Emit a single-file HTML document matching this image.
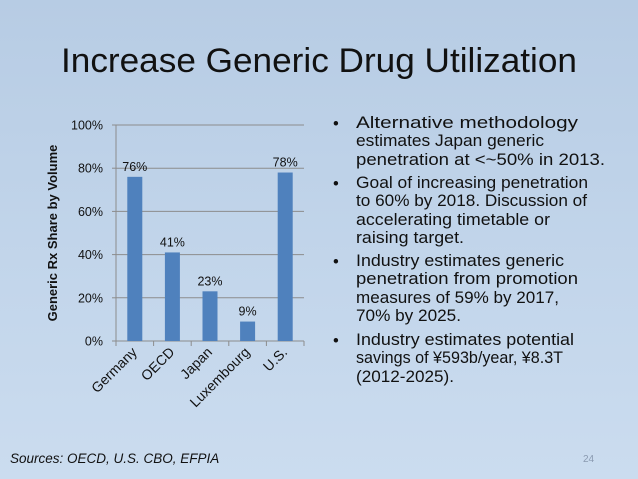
<!DOCTYPE html>
<html><head><meta charset="utf-8"><style>
html,body{margin:0;padding:0;}
body{width:638px;height:479px;overflow:hidden;background:linear-gradient(180deg,#b7cce4 0%,#c3d6eb 60%,#cbdcef 100%);font-family:"Liberation Sans",sans-serif;}
svg{display:block;}
</style></head><body>
<svg width="638" height="479">
<text x="319" y="72" text-anchor="middle" font-size="34" fill="#111" textLength="516" lengthAdjust="spacingAndGlyphs">Increase Generic Drug Utilization</text>
<g id="chart"></g>
<g font-size="16.5" fill="#111">
<text x="333" y="129">•</text><text x="333" y="189">•</text><text x="333" y="267">•</text><text x="333" y="346">•</text>
<text x="356" y="128" textLength="222" lengthAdjust="spacingAndGlyphs">Alternative methodology</text>
<text x="356" y="146" textLength="188" lengthAdjust="spacingAndGlyphs">estimates Japan generic</text>
<text x="356" y="165" textLength="249" lengthAdjust="spacingAndGlyphs">penetration at  &lt;~50% in 2013.</text>
<text x="356" y="188" textLength="232" lengthAdjust="spacingAndGlyphs">Goal of increasing penetration</text>
<text x="356" y="206" textLength="231" lengthAdjust="spacingAndGlyphs">to 60% by 2018. Discussion of</text>
<text x="356" y="225" textLength="194" lengthAdjust="spacingAndGlyphs">accelerating timetable or</text>
<text x="356" y="243" textLength="108" lengthAdjust="spacingAndGlyphs">raising target.</text>
<text x="356" y="266" textLength="208" lengthAdjust="spacingAndGlyphs">Industry estimates generic</text>
<text x="356" y="284" textLength="222" lengthAdjust="spacingAndGlyphs">penetration from promotion</text>
<text x="356" y="303" textLength="203" lengthAdjust="spacingAndGlyphs">measures of 59% by 2017,</text>
<text x="356" y="321" textLength="105" lengthAdjust="spacingAndGlyphs">70% by 2025.</text>
<text x="356" y="345" textLength="218" lengthAdjust="spacingAndGlyphs">Industry estimates potential</text>
<text x="356" y="363" textLength="207" lengthAdjust="spacingAndGlyphs">savings of ¥593b/year, ¥8.3T</text>
<text x="356" y="382" textLength="98" lengthAdjust="spacingAndGlyphs">(2012-2025).</text>
</g>
<text x="10" y="463" font-size="13.5" font-style="italic" fill="#111">Sources: OECD, U.S. CBO, EFPIA</text>
<text x="583" y="462" font-size="10" fill="#8a9ab0">24</text>
</svg>
<script>
const categories = ["Germany","OECD","Japan","Luxembourg","U.S."];
const values = [76,41,23,9,78];
const valueLabels = ["76%","41%","23%","9%","78%"];
const yTicks = [0,20,40,60,80,100];
const yTickLabels = ["0%","20%","40%","60%","80%","100%"];
const NS="http://www.w3.org/2000/svg";
const g=document.getElementById('chart');
const x0=116,x1=304,yTop=125,yBot=341;
const slot=(x1-x0)/categories.length;
function y(v){return yBot-(v/100)*(yBot-yTop);}
function xc(i){return x0+slot*(i+0.5);}
function mk(t,a,txt){const e=document.createElementNS(NS,t);for(const k in a)e.setAttribute(k,a[k]);if(txt!=null)e.textContent=txt;g.appendChild(e);return e;}
yTicks.forEach((v,i)=>{
  if(v>0){const l=mk('line',{x1:x0,x2:x1,y1:y(v),y2:y(v),stroke:'#8c8c8c','stroke-width':1});
  
  }
  const tk=mk('line',{x1:x0-4,x2:x0,y1:y(v),y2:y(v),stroke:'#8c8c8c'});
  
  
  const t=mk('text',{x:x0-13,y:y(v)+4.5,'text-anchor':'end','font-size':12.5,fill:'#111'},yTickLabels[i]);
  
  
});
const ax=mk('line',{x1:x0,x2:x0,y1:yTop,y2:yBot,stroke:'#8c8c8c'});


const bx=mk('line',{x1:x0,x2:x1,y1:yBot,y2:yBot,stroke:'#8c8c8c'});


for(let i=0;i<=categories.length;i++){
  const t=mk('line',{x1:x0+slot*i,x2:x0+slot*i,y1:yBot,y2:yBot+5,stroke:'#8c8c8c'});
  
  
}
categories.forEach((c,i)=>{
  const bw=15;
  const r=mk('rect',{x:xc(i)-bw/2,y:y(values[i]),width:bw,height:yBot-y(values[i]),fill:'#4f81bd'});
  
  
  const vl=mk('text',{x:xc(i),y:y(values[i])-6,'text-anchor':'middle','font-size':12.5,fill:'#111'},valueLabels[i]);
  
  
  const cx=xc(i)+3,cy=yBot+12;
  const cl=mk('text',{x:cx,y:cy,'text-anchor':'end','font-size':14,fill:'#111',transform:`rotate(-45 ${cx} ${cy})`},c);
  
  
});
const yt=mk('text',{x:57,y:233,'text-anchor':'middle','font-size':13,'font-weight':'bold',fill:'#111',transform:'rotate(-90 57 233)'},'Generic Rx Share by Volume');


</script>
</body></html>
